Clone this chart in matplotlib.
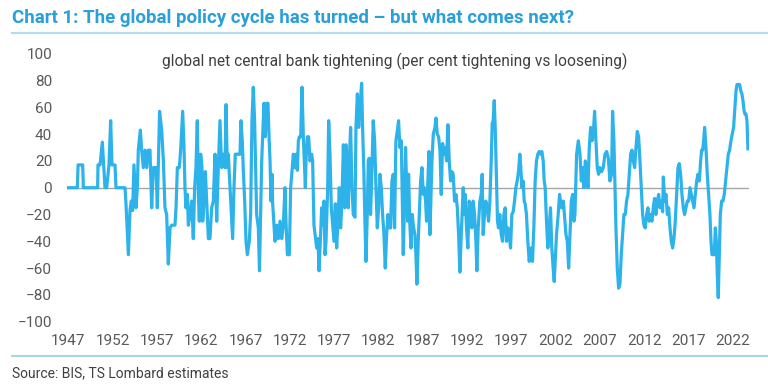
import matplotlib.pyplot as plt
from matplotlib import font_manager

# global net central bank tightening (year, per cent)
years_1947 = [1947.0, 1948.02, 1948.10, 1948.62, 1948.70, 1950.31, 1950.35, 1950.58, 1950.84, 1950.99,
              1951.14, 1951.33, 1951.59, 1951.78, 1951.93, 1952.27, 1952.38, 1953.40, 1953.51, 1953.78,
              1953.96, 1954.11, 1954.26, 1954.41, 1954.64, 1954.79, 1954.90, 1955.13, 1955.28, 1955.47,
              1955.66, 1955.85, 1956.03, 1956.22, 1956.41, 1956.60, 1956.90, 1957.05]
vals_1947 = [0, 0, 17, 17, 0, 0, 17, 17, 34, 17,
             0, 0, 17, 50, 17, 17, 0, 0, -12, -50,
             -17, -10, -17, 17, -15, 0, 28, 43, 28, 15,
             28, 15, 28, 28, -15, 15, 15, -15]

years_1957 = [1957.30, 1957.54, 1957.73, 1957.91, 1958.10, 1958.29, 1958.48, 1958.67, 1959.04, 1959.16,
              1959.23, 1959.31, 1959.53, 1959.68, 1959.91, 1960.06, 1960.17, 1960.28, 1960.44, 1960.55,
              1960.74, 1960.92, 1961.11, 1961.26, 1961.41, 1961.56, 1961.68, 1961.79, 1961.94, 1962.09,
              1962.17, 1962.32, 1962.47, 1962.62, 1962.81, 1962.99, 1963.18, 1963.37, 1963.56, 1963.75,
              1963.93, 1964.12, 1964.31, 1964.50, 1964.69, 1964.80, 1964.95, 1965.06, 1965.25, 1965.36,
              1965.55, 1965.70, 1965.85, 1966.38, 1966.49, 1966.64, 1966.76, 1966.91, 1967.06, 1967.21,
              1967.43, 1967.58, 1967.73, 1967.88, 1968.03, 1968.26, 1968.45, 1968.58]
vals_1957 = [57, 43, 20, -15, -20, -57, -30, -28, -28, -15,
             0, 15, 15, 28, 57, 30, 0, -15, -5, -28,
             -20, -10, -38, 0, 15, 50, -5, -25, 25, 15,
             -25, -10, 12, -10, -38, -38, -15, -10, 25, -25,
             15, 50, 15, 25, 15, 62, 15, 25, 0, -15,
             -38, 0, 25, 25, 50, 35, 12, -10, -40, -50,
             -40, -20, 50, 75, 50, -20, -30, -62]

years_1968 = [1968.83, 1969.09, 1969.24, 1969.39, 1969.54, 1969.66, 1969.77, 1969.88, 1969.99, 1970.07,
              1970.22, 1970.33, 1970.52, 1970.71, 1970.90, 1971.09, 1971.27, 1971.46, 1971.57, 1971.73,
              1971.95, 1972.10, 1972.25, 1972.40, 1972.55, 1972.70, 1972.85, 1972.97, 1973.08, 1973.23,
              1973.38, 1973.53, 1973.64, 1973.76, 1973.83, 1973.98, 1974.13, 1974.28, 1974.47, 1974.58,
              1974.73, 1974.89, 1975.04, 1975.19, 1975.30, 1975.45, 1975.60, 1975.75, 1975.86, 1975.98,
              1976.09, 1976.28, 1976.39, 1976.54, 1976.69, 1976.84, 1976.99, 1977.14, 1977.29, 1977.44,
              1977.59, 1977.74, 1977.89, 1978.05, 1978.23, 1978.35, 1978.50, 1978.61, 1978.72, 1978.87,
              1979.02, 1979.17, 1979.36, 1979.47, 1979.63, 1979.78]
vals_1968 = [20, 63, 38, 63, 63, 38, 20, -10, 10, -12,
             -28, -40, -28, -38, -25, -38, -28, 0, -25, -50,
             -50, 0, 12, 25, 15, 25, 13, 35, 38, 38,
             75, 38, 20, 0, 20, 38, 38, 20, 25, 20,
             -28, -37, -45, -38, -62, -40, -15, -28, -10, -50,
             -40, 0, 50, 25, -15, -28, -40, -12, -45, -25,
             0, -30, -10, 32, -15, 32, 10, -15, 20, 45,
             0, -20, -22, 45, 70, 45]

years_1980 = [1979.92, 1980.11, 1980.22, 1980.37, 1980.48, 1980.60, 1980.75, 1980.86, 1980.97, 1981.12,
              1981.24, 1981.42, 1981.58, 1981.73, 1981.88, 1982.03, 1982.18, 1982.33, 1982.48, 1982.63,
              1982.78, 1982.93, 1983.08, 1983.23, 1983.38, 1983.53, 1983.68, 1983.83, 1983.98, 1984.13,
              1984.28, 1984.43, 1984.59, 1984.74, 1984.81, 1984.96, 1985.07, 1985.19, 1985.30, 1985.41,
              1985.56, 1985.68, 1985.83, 1985.94, 1986.13, 1986.24, 1986.35, 1986.50, 1986.62, 1986.77,
              1986.92, 1987.07, 1987.18, 1987.33, 1987.44, 1987.56, 1987.71, 1987.82, 1987.93, 1988.05,
              1988.20, 1988.39, 1988.50, 1988.65, 1988.80, 1988.95, 1989.10, 1989.25, 1989.40, 1989.55,
              1989.70, 1989.85, 1990.00, 1990.15, 1990.30, 1990.45, 1990.60, 1990.76, 1990.91, 1991.06]
vals_1980 = [60, 78, 45, 10, -25, -55, -20, 20, 22, -20,
             5, 50, 35, 0, -30, -15, 10, 0, -20, -35,
             -60, -35, -20, -30, -30, 5, 10, -30, 35, 42,
             50, 30, 35, -20, -50, -10, 30, 0, -25, 10,
             -28, -45, -20, -28, -35, -50, -72, -40, -20, 5,
             15, -5, 0, -10, -25, 0, 27, -35, -10, 20,
             40, 45, 52, 40, 38, 28, -5, 33, 25, 30,
             20, 47, 20, 5, 12, 10, -10, -5, -15, -35]

years_1991 = [1991.20, 1991.39, 1991.58, 1991.69, 1991.80, 1991.95, 1992.10, 1992.25, 1992.40, 1992.55,
              1992.70, 1992.86, 1993.01, 1993.12, 1993.27, 1993.46, 1993.61, 1993.72, 1993.83, 1993.98,
              1994.13, 1994.29, 1994.44, 1994.59, 1994.74, 1994.85, 1994.96, 1995.08, 1995.19, 1995.34,
              1995.45, 1995.56, 1995.71, 1995.87, 1996.02, 1996.17, 1996.32, 1996.47, 1996.62, 1996.77,
              1996.92, 1997.07, 1997.22, 1997.37, 1997.52, 1997.67, 1997.82, 1997.97, 1998.08, 1998.20,
              1998.35, 1998.46, 1998.57, 1998.72, 1998.87, 1999.03, 1999.21, 1999.40, 1999.55, 1999.70,
              1999.85, 2000.00, 2000.15, 2000.30, 2000.46, 2000.61, 2000.72, 2000.83, 2000.98, 2001.13,
              2001.28, 2001.43, 2001.58, 2001.73, 2001.85, 2002.00, 2002.11, 2002.30, 2002.45]
vals_1991 = [-63, -30, 0, -20, -5, -30, -45, -10, -15, -30,
             -10, -20, -40, -62, -30, -10, -5, 10, -35, -20,
             -10, -15, -25, -10, 20, 48, 50, 65, 45, 5,
             -25, -30, -20, -35, -40, -20, -15, -40, -30, -35,
             -45, -20, -18, -10, 0, 5, 12, 25, 15, 0,
             5, -10, -12, -20, -40, -55, -45, -55, -30, 5,
             20, 25, 27, 25, 27, 20, 5, 0, -25, -45,
             -30, -15, -45, -60, -70, -50, -35, -20, -5]

years_2002 = [2002.69, 2002.88, 2003.06, 2003.18, 2003.33, 2003.48, 2003.63, 2003.78, 2003.93, 2004.08,
              2004.19, 2004.38, 2004.57, 2004.76, 2004.91, 2005.06, 2005.21, 2005.36, 2005.51, 2005.66,
              2005.81, 2005.96, 2006.11, 2006.26, 2006.41, 2006.56, 2006.71, 2006.86, 2007.01, 2007.20,
              2007.39, 2007.58, 2007.77, 2007.96, 2008.14, 2008.33, 2008.44, 2008.59, 2008.71, 2008.82,
              2008.97, 2009.12, 2009.27, 2009.42, 2009.57, 2009.72, 2009.87, 2010.02, 2010.17, 2010.33,
              2010.48, 2010.63, 2010.78, 2010.93, 2011.08, 2011.23, 2011.38, 2011.53, 2011.68, 2011.83,
              2011.98, 2012.13, 2012.28, 2012.43, 2012.58, 2012.73, 2012.88, 2013.03, 2013.18, 2013.33,
              2013.49, 2013.64]
vals_2002 = [-15, -10, -25, -35, -40, -60, -35, -10, -5, -25,
             -20, 25, 35, 25, 5, 15, 0, 20, 15, 0,
             30, 45, 35, 40, 57, 35, 15, 10, 15, 12,
             15, 25, 27, 22, 5, 10, 57, 35, 0, -30,
             -60, -75, -72, -50, -35, -20, -20, -10, -5, 10,
             25, 28, 20, 15, 30, 42, 38, 20, 0, -20,
             -28, -30, -20, -15, -25, -20, -25, -15, -8, -20,
             -10, -5]

years_2013 = [2013.79, 2013.94, 2014.09, 2014.17, 2014.32, 2014.47, 2014.62, 2014.77, 2014.92, 2015.07,
              2015.22, 2015.37, 2015.52, 2015.67, 2015.82, 2015.97, 2016.12, 2016.27, 2016.42, 2016.57,
              2016.72, 2016.87, 2017.03, 2017.18, 2017.33, 2017.48, 2017.63, 2017.78, 2017.93, 2018.08,
              2018.23, 2018.38, 2018.49, 2018.61, 2018.72, 2018.83, 2018.98, 2019.13, 2019.28, 2019.43,
              2019.55, 2019.66, 2019.81, 2019.92, 2020.04, 2020.15, 2020.26, 2020.37, 2020.49, 2020.60,
              2020.75, 2020.90, 2021.05, 2021.20, 2021.35, 2021.50, 2021.65, 2021.80, 2021.95, 2022.10,
              2022.25, 2022.37, 2022.48, 2022.63, 2022.78, 2022.93, 2023.04, 2023.16, 2023.27, 2023.38,
              2023.50, 2023.61, 2023.72]
vals_2013 = [-15, -10, -18, 8, -10, -5, -20, -15, -30, -40,
             -45, -38, -25, -5, 15, 18, 10, -5, -15, -20,
             -15, -10, -10, 0, -5, -10, -15, -5, 5, 10,
             5, 20, 28, 28, 35, 45, 30, 10, -5, -20,
             -40, -50, -50, -50, -30, -40, -65, -82, -50, -20,
             -10, -10, -5, 5, 15, 25, 28, 35, 40, 45,
             60, 72, 77, 77, 77, 72, 70, 65, 58, 55,
             55, 50, 29]

x_ticks = [1947, 1952, 1957, 1962, 1967, 1972, 1977, 1982, 1987, 1992, 1997, 2002, 2007, 2012, 2017, 2022]
y_ticks = [-100, -80, -60, -40, -20, 0, 20, 40, 60, 80, 100]

years = years_1947 + years_1957 + years_1968 + years_1980 + years_1991 + years_2002 + years_2013
vals = vals_1947 + vals_1957 + vals_1968 + vals_1980 + vals_1991 + vals_2002 + vals_2013

names = {f.name for f in font_manager.fontManager.ttflist}
narrow = 'Liberation Sans Narrow' if 'Liberation Sans Narrow' in names else 'Roboto'
plt.rcParams['font.family'] = ['Roboto', 'DejaVu Sans']

fig = plt.figure(figsize=(7.68, 3.88), dpi=100)
ax = fig.add_axes([0.0878, 0.1709, 0.887, 0.6907])

ax.axhline(0, color='#a6a6a6', lw=1.0, zorder=1)
ax.plot(years, vals, color='#2db3ea', lw=2.3, solid_joinstyle='round', zorder=2)

ax.set_xlim(1946.9, 2023.8)
ax.set_ylim(-100, 100)
ax.set_xticks(x_ticks)
ax.set_xticklabels([str(t) for t in x_ticks])
ax.set_yticks(y_ticks)
ax.tick_params(length=0, labelsize=11, colors='#595959')
ax.tick_params(axis='y', pad=11)
ax.tick_params(axis='x', pad=9)
for s in ax.spines.values():
    s.set_visible(False)

ax.text(0.481, 0.97, 'global net central bank tightening (per cent tightening vs loosening)',
        transform=ax.transAxes, ha='center', va='center', fontsize=11.2, color='#404040')

fig.text(0.016, 0.953, 'Chart 1: The global policy cycle has turned \u2013 but what comes next?',
         fontsize=13.5, fontweight='bold', color='#2a9fd8', family=[narrow, 'DejaVu Sans'],
         va='center', ha='left')
fig.add_artist(plt.Line2D([0.016, 1.0], [0.915, 0.915], color='#b5dcea', lw=1.6))
fig.add_artist(plt.Line2D([0.016, 1.0], [0.083, 0.083], color='#a9d9d9', lw=1.6))
fig.text(0.016, 0.039, 'Source: BIS, TS Lombard estimates', fontsize=10, color='#404040',
         family=[narrow, 'DejaVu Sans'], va='center', ha='left')

fig.savefig('out.png', dpi=100)
